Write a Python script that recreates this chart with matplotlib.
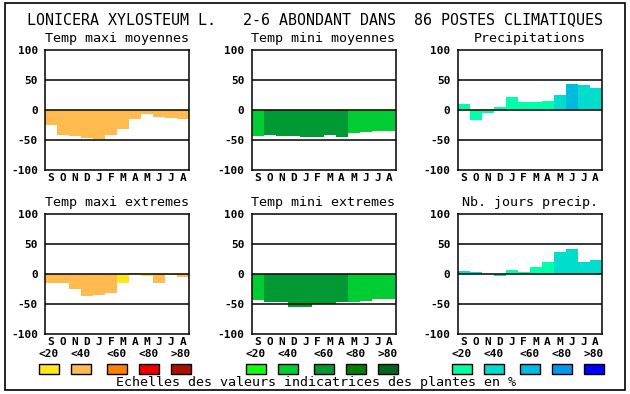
import matplotlib
matplotlib.use("Agg")
import matplotlib.pyplot as plt
from matplotlib.patches import Rectangle

# ---------------- data ----------------
months = ["S", "O", "N", "D", "J", "F", "M", "A", "M", "J", "J", "A"]
yticks = [-100, -50, 0, 50, 100]
legend_labels = ["<20", "<40", "<60", "<80", ">80"]

title = "LONICERA XYLOSTEUM L.   2-6 ABONDANT DANS  86 POSTES CLIMATIQUES"
caption = "Echelles des valeurs indicatrices des plantes en %"

warm_colors = ["#FFE81A", "#FFBB50", "#FF7F00", "#EE0000", "#AA1100"]
green_colors = ["#11FF11", "#00CC33", "#009933", "#007F00", "#006620"]
blue_colors = ["#00FFAA", "#00DDCC", "#00BBDD", "#0099EE", "#0000FF"]

panel_titles = ["Temp maxi moyennes", "Temp mini moyennes", "Precipitations",
                "Temp maxi extremes", "Temp mini extremes", "Nb. jours precip."]

tmax_moy = [-25, -42, -43, -47, -48, -42, -32, -15, -7, -12, -13, -15]
tmax_moy_cls = [1, 1, 1, 1, 1, 1, 1, 1, 1, 1, 1, 1]

tmin_moy = [-43, -42, -43, -43, -45, -45, -42, -45, -38, -37, -35, -35]
tmin_moy_cls = [1, 2, 2, 2, 2, 2, 2, 2, 1, 1, 1, 1]

precip = [10, -17, -5, 5, 22, 13, 13, 15, 25, 43, 42, 37]
precip_cls = [0, 0, 0, 0, 0, 0, 0, 0, 1, 2, 1, 1]

tmax_ext = [-15, -15, -25, -37, -35, -32, -15, 2, -3, -15, -2, -4]
tmax_ext_cls = [1, 1, 1, 1, 1, 1, 0, 0, 0, 1, 0, 1]

tmin_ext = [-43, -47, -47, -55, -55, -50, -49, -47, -47, -45, -42, -42]
tmin_ext_cls = [1, 2, 2, 2, 2, 2, 2, 2, 1, 1, 1, 1]

jours = [5, 4, 0, -3, 7, 3, 12, 20, 37, 42, 20, 23]
jours_cls = [1, 1, 0, 1, 0, 0, 0, 0, 1, 1, 1, 1]

panels = [
    (tmax_moy, tmax_moy_cls, warm_colors),
    (tmin_moy, tmin_moy_cls, green_colors),
    (precip, precip_cls, blue_colors),
    (tmax_ext, tmax_ext_cls, warm_colors),
    (tmin_ext, tmin_ext_cls, green_colors),
    (jours, jours_cls, blue_colors),
]
palettes = [warm_colors, green_colors, blue_colors]

# ---------------- layout ----------------
W, H = 630, 394
FONT = "DejaVu Sans Mono"
fig = plt.figure(figsize=(W / 100, H / 100), dpi=100)
fig.patch.set_facecolor("white")

def fx(px):
    return px / W

def fy(py):
    return 1 - py / H

col_left = [45, 251.5, 457.5]
ax_w = 144
row_top = [50, 214.3]
ax_h = 120

fig.add_artist(Rectangle((fx(4.5), fy(389.5)), fx(620), 387 / H, fill=False,
                         edgecolor="black", linewidth=1.2, transform=fig.transFigure))

fig.text(fx(315), fy(24), title, family=FONT, fontsize=10.8, ha="center",
         va="baseline", color="black")

for i, (vals, cls, pal) in enumerate(panels):
    r, c = divmod(i, 3)
    left = col_left[c]
    top = row_top[r]
    ax = fig.add_axes([fx(left), fy(top + ax_h), ax_w / W, ax_h / H])
    x = list(range(len(months)))
    ax.bar(x, vals, width=1.0, color=[pal[k] for k in cls], linewidth=0, zorder=1)
    for yv in (-50, 0, 50):
        ax.axhline(yv, color="black", linewidth=1.1, zorder=3)
    ax.set_xlim(-0.5, 11.5)
    ax.set_ylim(-100, 100)
    ax.set_yticks(yticks)
    ax.set_yticklabels([str(v) for v in yticks], family=FONT, fontsize=8,
                       fontweight="bold")
    ax.set_xticks(x)
    ax.set_xticklabels(months, family=FONT, fontsize=8, fontweight="bold")
    ax.tick_params(axis="both", length=0)
    ax.tick_params(axis="y", pad=5)
    ax.tick_params(axis="x", pad=2)
    for s in ax.spines.values():
        s.set_linewidth(1.1)
        s.set_color("black")
    fig.text(fx(left + ax_w / 2), fy(top - 8), panel_titles[i], family=FONT,
             fontsize=9.6, ha="center", va="baseline")

# legend
offsets = [4, 36, 72, 104, 136]
for c, pal in enumerate(palettes):
    for k, (lab, col) in enumerate(zip(legend_labels, pal)):
        cx = col_left[c] + offsets[k]
        fig.text(fx(cx), fy(354), lab, family=FONT, fontsize=8, fontweight="bold",
                 ha="center", va="center")
        fig.add_artist(Rectangle((fx(cx - 10), fy(373.5)), 20 / W, 9.5 / H,
                                 facecolor=col, edgecolor="black", linewidth=1,
                                 transform=fig.transFigure))

fig.text(fx(316), fy(386), caption, family=FONT, fontsize=9.6, ha="center",
         va="baseline")

fig.savefig("out.png", dpi=100, facecolor="white")
